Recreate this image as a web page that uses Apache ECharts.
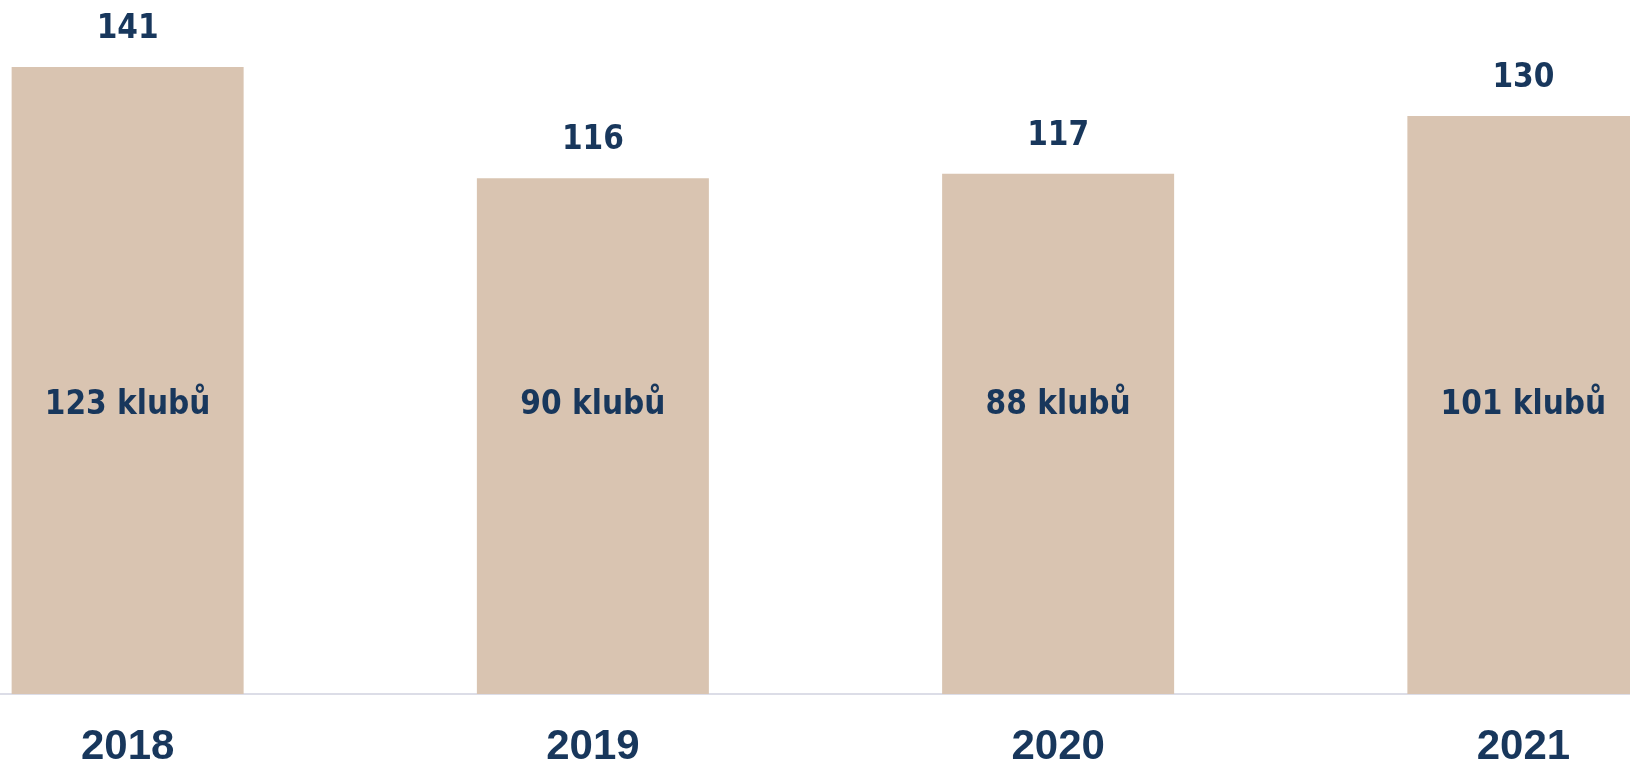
<!DOCTYPE html>
<html>
<head>
<meta charset="utf-8">
<script src="https://cdn.jsdelivr.net/npm/echarts@6/dist/echarts.min.js"></script>
<style>
    html,body{margin:0;padding:0;background:#fff;overflow:hidden;width:1630px;height:764px;position:relative;}
    /* graf je v originale oriznuty po stranach */
    #chart{position:absolute;left:-105px;top:0;width:1861px;height:764px;}
</style>
</head>
<body>
<div id="chart"></div>
<script>
var years=['2018','2019','2020','2021'];
var totals=[141,116,117,130];
var clubs=[123,90,88,101];

var navy='#18375c';
var labelFont='"DejaVu Sans Condensed", "Liberation Sans Narrow", sans-serif';

var myChart=echarts.init(document.getElementById('chart'));
var option={
    animation:false,
    grid:{
        left:0,
        right:0,
        top:27,
        bottom:70,
        outerBoundsMode:'none'
    },
    xAxis:{
        type:'category',
        data:years,
        axisTick:{show:false},
        axisLine:{lineStyle:{color:'#dcdde7',width:2}},
        axisLabel:{
            color:navy,
            fontSize:42,
            fontWeight:'bold',
            fontFamily:'"Liberation Sans", Arial, sans-serif',
            margin:32
        }
    },
    yAxis:{
        type:'value',
        min:0,
        max:150,
        show:false,
        splitLine:{show:false}
    },
    series:[
        {//celkem
            type:'bar',
            data:totals,
            barWidth:232,
            itemStyle:{color:'#d9c4b1'},
            label:{
                show:true,
                position:'top',
                distance:21,
                color:navy,
                fontSize:33,
                fontWeight:'bold',
                fontFamily:labelFont
            },
            z:2
        },
        {//kluby - jen popisek
            type:'bar',
            data:clubs,
            barWidth:232,
            barGap:'-100%',
            itemStyle:{color:'rgba(0,0,0,0)'},
            label:{
                show:true,
                position:'insideBottom',
                distance:272,
                formatter:'{c} klubů',
                color:navy,
                fontSize:33,
                fontWeight:'bold',
                fontFamily:labelFont
            },
            z:3
        }
    ]
};
myChart.setOption(option);
</script>
</body>
</html>
